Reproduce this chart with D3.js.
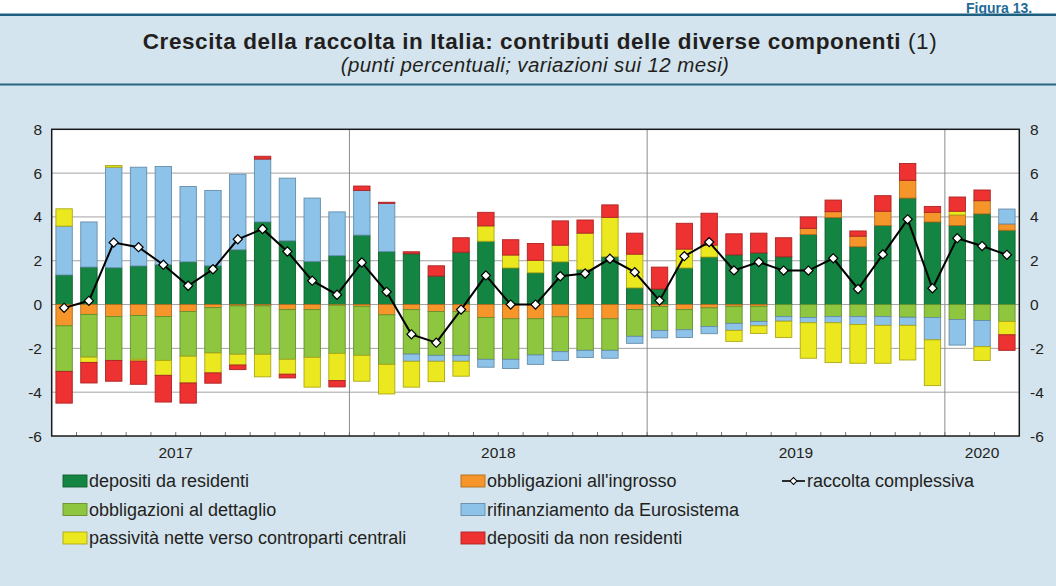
<!DOCTYPE html>
<html>
<head>
<meta charset="utf-8">
<script src="https://cdn.jsdelivr.net/npm/d3@7"></script>
<style>
  html, body { margin: 0; padding: 0; background: #ffffff; }
  svg { display: block; }
  text { font-family: "Liberation Sans", Arial, Helvetica, sans-serif; }
</style>
</head>
<body>
<script>
// Months shown on the horizontal axis (Jan 2017 - Mar 2020)
const months = [
  "2017-01","2017-02","2017-03","2017-04","2017-05","2017-06","2017-07","2017-08","2017-09","2017-10","2017-11","2017-12",
  "2018-01","2018-02","2018-03","2018-04","2018-05","2018-06","2018-07","2018-08","2018-09","2018-10","2018-11","2018-12",
  "2019-01","2019-02","2019-03","2019-04","2019-05","2019-06","2019-07","2019-08","2019-09","2019-10","2019-11","2019-12",
  "2020-01","2020-02","2020-03"
];

// Contributions to 12-month growth (percentage points)
const depositiResidenti = [1.35,1.71,1.68,1.76,1.82,1.95,1.77,2.50,3.77,2.91,1.97,2.23,
  3.17,2.42,2.32,1.30,2.39,2.89,1.67,1.45,1.95,1.59,2.18,0.76,
  0.71,1.67,2.17,2.27,2.36,2.18,3.20,3.97,2.64,3.61,4.86,3.77,
  3.61,4.14,3.39];
const obbligazioniIngrosso = [-0.97,-0.45,-0.55,-0.50,-0.55,-0.32,-0.14,-0.06,-0.06,-0.23,-0.23,-0.03,
  -0.08,-0.47,-0.23,-0.32,-0.32,-0.59,-0.65,-0.65,-0.56,-0.64,-0.65,-0.23,
  -0.09,-0.23,-0.15,-0.08,-0.08,0.00,0.28,0.27,0.48,0.65,0.81,0.44,
  0.48,0.60,0.29];
const obbligazioniDettaglio = [-2.08,-1.95,-2.00,-2.00,-2.00,-2.04,-2.07,-2.21,-2.21,-2.27,-2.18,-2.20,
  -2.24,-2.26,-2.03,-2.00,-2.00,-1.91,-1.85,-1.65,-1.59,-1.45,-1.44,-1.22,
  -1.09,-0.92,-0.85,-0.78,-0.69,-0.55,-0.59,-0.55,-0.55,-0.55,-0.58,-0.59,
  -0.68,-0.73,-0.77];
const rifinanziamento = [2.23,2.06,4.59,4.51,4.48,3.44,3.44,3.45,2.87,2.86,2.89,2.00,
  2.04,2.20,-0.33,-0.27,-0.27,-0.36,-0.42,-0.43,-0.40,-0.33,-0.36,-0.32,
  -0.34,-0.35,-0.33,-0.32,-0.20,-0.21,-0.24,-0.28,-0.36,-0.40,-0.37,-1.02,
  -1.17,-1.19,0.68];
const passivitaCCP = [0.79,-0.24,0.08,-0.08,-0.68,-1.22,-0.91,-0.49,-1.03,-0.68,-1.36,-1.24,
  -1.18,-1.35,-1.18,-0.93,-0.68,0.70,0.59,0.57,0.76,1.67,1.80,1.54,
  0.00,0.86,0.54,-0.50,-0.35,-0.74,-1.62,-1.82,-1.77,-1.73,-1.58,-2.09,
  0.17,-0.63,-0.61];
const depositiNonResidenti = [-1.45,-0.94,-0.95,-1.06,-1.22,-0.92,-0.47,-0.21,0.13,-0.17,0.00,-0.29,
  0.20,0.05,0.09,0.47,0.66,0.62,0.70,0.77,1.11,0.60,0.57,0.96,
  1.00,1.18,1.46,0.96,0.90,0.87,0.52,0.53,0.24,0.71,0.77,0.27,
  0.65,0.49,-0.71];
const raccoltaComplessiva = [-0.15,0.17,2.83,2.62,1.82,0.86,1.61,2.98,3.45,2.42,1.09,0.45,
  1.92,0.58,-1.36,-1.74,-0.23,1.33,0.00,0.00,1.29,1.42,2.09,1.48,
  0.18,2.21,2.85,1.56,1.94,1.55,1.55,2.11,0.71,2.29,3.89,0.74,
  3.03,2.67,2.27];

// Axis ticks and year labels (position given as month index)
const yTicks = [-6,-4,-2,0,2,4,6,8];
const yearLabels = [
  { label: "2017", at: 5 },
  { label: "2018", at: 18 },
  { label: "2019", at: 30 },
  { label: "2020", at: 37.5 }
];

const seriesNames = [
  "depositi da residenti",
  "obbligazioni all'ingrosso",
  "obbligazioni al dettaglio",
  "rifinanziamento da Eurosistema",
  "passività nette verso controparti centrali",
  "depositi da non residenti"
];
const seriesValues = [depositiResidenti, obbligazioniIngrosso, obbligazioniDettaglio,
  rifinanziamento, passivitaCCP, depositiNonResidenti];
const seriesColors = ["#138441", "#f6962a", "#8ec63f", "#8dc3e9", "#ece81f", "#ee3131"];
const lineName = "raccolta complessiva";

// ---- layout ----
const W = 1056, H = 586;
const plot = { left: 51.7, right: 1019.3, top: 129.3, bottom: 436 };

const svg = d3.select("body").append("svg").attr("width", W).attr("height", H);

// panel background and header rules
svg.append("rect").attr("x", 0).attr("y", 0).attr("width", W).attr("height", H).attr("fill", "#ffffff");
svg.append("rect").attr("x", 0).attr("y", 15).attr("width", W).attr("height", H - 15).attr("fill", "#d3e4ee");
svg.append("rect").attr("x", 0).attr("y", 13.5).attr("width", W).attr("height", 2.5).attr("fill", "#1d5f7f");
svg.append("rect").attr("x", 0).attr("y", 83.5).attr("width", W).attr("height", 2).attr("fill", "#2a6482");

svg.append("text").attr("x", 966).attr("y", 12.8)
  .attr("font-size", 14).attr("font-weight", "bold").attr("fill", "#1f6b97")
  .text("Figura 13.");

const title = svg.append("text").attr("x", 540).attr("y", 49)
  .attr("text-anchor", "middle").attr("font-size", 22.5).attr("letter-spacing", 0.6)
  .attr("fill", "#231f20");
title.append("tspan").attr("font-weight", "bold")
  .text("Crescita della raccolta in Italia: contributi delle diverse componenti");
title.append("tspan").text(" (1)");

svg.append("text").attr("x", 535).attr("y", 72)
  .attr("text-anchor", "middle").attr("font-size", 20.5).attr("letter-spacing", 0.4)
  .attr("font-style", "italic").attr("fill", "#231f20")
  .text("(punti percentuali; variazioni sui 12 mesi)");

// ---- scales ----
const x = d3.scaleBand().domain(months).range([plot.left, plot.right])
  .paddingInner(0.34).paddingOuter(0.17);
const y = d3.scaleLinear().domain([-6, 8]).range([plot.bottom, plot.top]);
const xIdx = d3.scaleLinear().domain([0, months.length]).range([plot.left, plot.right]);

// plot area
svg.append("rect").attr("x", plot.left).attr("y", plot.top)
  .attr("width", plot.right - plot.left).attr("height", plot.bottom - plot.top)
  .attr("fill", "#ffffff");

// horizontal grid
svg.append("g").selectAll("line").data(yTicks.filter(t => t > -6 && t < 8)).join("line")
  .attr("x1", plot.left).attr("x2", plot.right)
  .attr("y1", d => y(d)).attr("y2", d => y(d))
  .attr("stroke", "#a3a3a3").attr("stroke-width", 1);

// year separators
const yearStarts = months.map((m, i) => ({ m, i })).filter(d => d.i > 0 && d.m.endsWith("-01"));
svg.append("g").selectAll("line").data(yearStarts).join("line")
  .attr("x1", d => xIdx(d.i)).attr("x2", d => xIdx(d.i))
  .attr("y1", plot.top).attr("y2", plot.bottom)
  .attr("stroke", "#8c8c8c").attr("stroke-width", 1);

// month ticks on the bottom axis
svg.append("g").selectAll("line").data(d3.range(1, months.length)).join("line")
  .attr("x1", d => xIdx(d)).attr("x2", d => xIdx(d))
  .attr("y1", plot.bottom).attr("y2", plot.bottom - 4)
  .attr("stroke", "#777777").attr("stroke-width", 1);

// ---- stacked bars ----
const rows = months.map((m, i) => {
  const r = { month: m };
  seriesNames.forEach((s, k) => { r[s] = seriesValues[k][i]; });
  return r;
});
const stacked = d3.stack().keys(seriesNames).offset(d3.stackOffsetDiverging)(rows);

const barsG = svg.append("g");
stacked.forEach((layer, k) => {
  barsG.append("g")
    .attr("fill", seriesColors[k])
    .attr("stroke", d3.color(seriesColors[k]).darker(0.9))
    .attr("stroke-width", 0.9)
    .selectAll("rect")
    .data(layer.filter(d => Math.abs(d[1] - d[0]) > 1e-9))
    .join("rect")
    .attr("x", d => x(d.data.month))
    .attr("width", x.bandwidth())
    .attr("y", d => y(Math.max(d[0], d[1])))
    .attr("height", d => Math.abs(y(d[0]) - y(d[1])));
});

// ---- total line with diamond markers ----
const cx = m => x(m) + x.bandwidth() / 2;
svg.append("path")
  .datum(months.map((m, i) => [cx(m), y(raccoltaComplessiva[i])]))
  .attr("fill", "none").attr("stroke", "#000000").attr("stroke-width", 2)
  .attr("d", d3.line());

const diamond = d3.symbol().type(d3.symbolSquare).size(42);
svg.append("g").selectAll("path").data(months).join("path")
  .attr("d", diamond)
  .attr("transform", (m, i) => `translate(${cx(m)},${y(raccoltaComplessiva[i])}) rotate(45)`)
  .attr("fill", "#ffffff").attr("stroke", "#000000").attr("stroke-width", 1.2);

// frame
svg.append("rect").attr("x", plot.left).attr("y", plot.top)
  .attr("width", plot.right - plot.left).attr("height", plot.bottom - plot.top)
  .attr("fill", "none").attr("stroke", "#1a1a1a").attr("stroke-width", 1.5);

// ---- axes labels ----
const axisFont = 15.5;
svg.append("g").selectAll("text").data(yTicks).join("text")
  .attr("x", 42).attr("y", d => y(d) + 5.5)
  .attr("text-anchor", "end").attr("font-size", axisFont).attr("fill", "#231f20")
  .text(d => d);
svg.append("g").selectAll("text").data(yTicks).join("text")
  .attr("x", 1030).attr("y", d => y(d) + 5.5)
  .attr("text-anchor", "start").attr("font-size", axisFont).attr("fill", "#231f20")
  .text(d => d);
svg.append("g").selectAll("text").data(yearLabels).join("text")
  .attr("x", d => xIdx(d.at)).attr("y", 458)
  .attr("text-anchor", "middle").attr("font-size", axisFont).attr("fill", "#231f20")
  .text(d => d.label);

// ---- legend ----
const legendItems = [
  { name: seriesNames[0], k: 0, col: 0, row: 0 },
  { name: seriesNames[2], k: 2, col: 0, row: 1 },
  { name: seriesNames[4], k: 4, col: 0, row: 2 },
  { name: seriesNames[1], k: 1, col: 1, row: 0 },
  { name: seriesNames[3], k: 3, col: 1, row: 1 },
  { name: seriesNames[5], k: 5, col: 1, row: 2 },
  { name: lineName, k: -1, col: 2, row: 0 }
];
const colX = [63, 461, 781];
const rowY = [481, 509.5, 538];
const lg = svg.append("g").selectAll("g").data(legendItems).join("g")
  .attr("transform", d => `translate(${colX[d.col]},${rowY[d.row]})`);
lg.filter(d => d.k >= 0).append("rect")
  .attr("x", 0).attr("y", -6).attr("width", 24).attr("height", 12)
  .attr("fill", d => seriesColors[d.k])
  .attr("stroke", d => d3.color(seriesColors[d.k]).darker(0.9)).attr("stroke-width", 0.9);
lg.filter(d => d.k < 0).append("line")
  .attr("x1", 1).attr("x2", 24).attr("y1", 0).attr("y2", 0)
  .attr("stroke", "#000").attr("stroke-width", 1.6);
lg.filter(d => d.k < 0).append("path")
  .attr("d", d3.symbol().type(d3.symbolSquare).size(24))
  .attr("transform", "translate(12.5,0) rotate(45)")
  .attr("fill", "#fff").attr("stroke", "#000").attr("stroke-width", 1);
lg.append("text").attr("x", 26).attr("y", 6)
  .attr("font-size", 18).attr("fill", "#231f20")
  .text(d => d.name);
</script>
</body>
</html>
